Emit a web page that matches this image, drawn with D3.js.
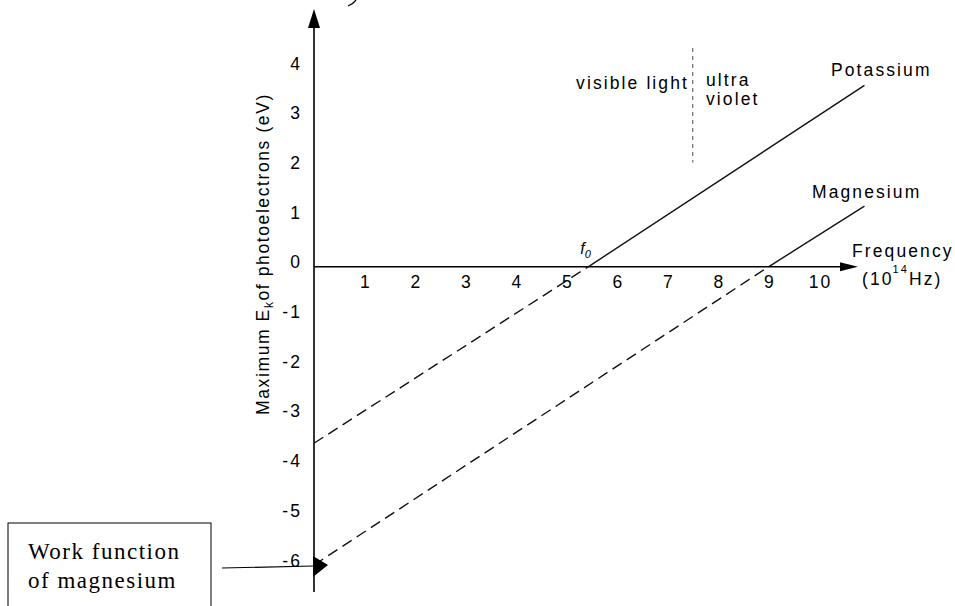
<!DOCTYPE html>
<html>
<head>
<meta charset="utf-8">
<script src="https://cdn.jsdelivr.net/npm/d3@7"></script>
<style>
body{margin:0;background:#fff}
svg text{font-family:"Liberation Sans",Arial,sans-serif;font-size:17.5px;letter-spacing:2.1px;fill:#000}
svg text.serif{font-family:"Liberation Serif","Times New Roman",serif;font-size:23px;letter-spacing:1.5px}
</style>
</head>
<body>
<svg id="chart" width="955" height="606"></svg>
<script>
// tick labels
var xTicks = [1,2,3,4,5,6,7,8,9,10]
var yTicks = [4,3,2,1,0,-1,-2,-3,-4,-5,-6]

// frequency (10^14 Hz) vs max Ek (eV)
var potassiumDashed = [{f:0, ek:-3.55}, {f:5.43, ek:0}]
var potassiumSolid  = [{f:5.43, ek:0}, {f:10.9, ek:3.65}]
var magnesiumDashed = [{f:0, ek:-6}, {f:9, ek:0}]
var magnesiumSolid  = [{f:9, ek:0}, {f:10.9, ek:1.22}]
var uvBoundary      = [{f:7.5, ek:4.4}, {f:7.5, ek:2.1}]

var drawChart = function(target)
{
    var xScale = d3.scaleLinear()
        .domain([0,10])
        .range([314,819])
    var yScale = d3.scaleLinear()
        .domain([-6,4])
        .range([565,68])

    createAxes(target,xScale,yScale)
    drawLines(target,xScale,yScale)
    createLabels(target,xScale,yScale)
}

var createAxes = function(target,xScale,yScale)
{
    var x0 = xScale(0), y0 = yScale(0)
    var axes = target.append("g").classed("axes", true)

    // y axis line with arrow on top
    axes.append("line")
        .attr("x1",x0).attr("x2",x0)
        .attr("y1",592).attr("y2",24)
        .attr("stroke","#000").attr("stroke-width",1.6)
    axes.append("path")
        .attr("d","M"+x0+",9 L"+(x0-6)+",28 L"+(x0+6)+",28 Z")
        .attr("fill","#000")

    // x axis line with arrow on the right
    axes.append("line")
        .attr("x1",x0).attr("x2",842)
        .attr("y1",y0).attr("y2",y0)
        .attr("stroke","#000").attr("stroke-width",1.6)
    axes.append("path")
        .attr("d","M858,"+y0+" L840,"+(y0-4.5)+" L840,"+(y0+4.5)+" Z")
        .attr("fill","#000")

    var xAxis = d3.axisBottom(xScale)
        .tickValues(xTicks)
        .tickSize(0)
        .tickPadding(9)
        .tickFormat(function(d){return String(d)})
    var yAxis = d3.axisLeft(yScale)
        .tickValues(yTicks)
        .tickSize(0)
        .tickPadding(12)
        .tickFormat(function(d){return String(d)})

    var gx = axes.append("g")
        .attr("transform","translate(0,"+y0+")")
        .call(xAxis)
    gx.select(".domain").remove()
    gx.selectAll("text").attr("dx","1")

    var gy = axes.append("g")
        .attr("transform","translate("+x0+",0)")
        .call(yAxis)
    gy.select(".domain").remove()
    gy.selectAll("text").attr("dy","0.06em")
}

var drawLines = function(target,xScale,yScale)
{
    var lineGenerator = d3.line()
        .x(function(p){return xScale(p.f)})
        .y(function(p){return yScale(p.ek)})

    var lines = target.append("g")
        .classed("lines", true)
        .attr("fill","none")

    lines.selectAll("path.solid")
        .data([potassiumSolid, magnesiumSolid])
        .enter()
        .append("path")
        .classed("solid", true)
        .attr("d",lineGenerator)
        .attr("stroke","#111")
        .attr("stroke-width",1.4)

    lines.selectAll("path.dashed")
        .data([potassiumDashed, magnesiumDashed])
        .enter()
        .append("path")
        .classed("dashed", true)
        .attr("d",lineGenerator)
        .attr("stroke","#111")
        .attr("stroke-width",1.4)
        .attr("stroke-dasharray","11,6")

    lines.append("path")
        .datum(uvBoundary)
        .attr("d",lineGenerator)
        .attr("stroke","#777")
        .attr("stroke-width",1.3)
        .attr("stroke-dasharray","4,4")
}

var createLabels = function(target,xScale,yScale)
{
    var labels = target.append("g").classed("labels", true)

    labels.append("text").text("Potassium").attr("x",831).attr("y",76)
    labels.append("text").text("Magnesium").attr("x",812).attr("y",198)
    labels.append("text").text("visible light")
        .attr("text-anchor","end").attr("x",689).attr("y",89)
    labels.append("text").text("ultra").attr("x",706).attr("y",86)
    labels.append("text").text("violet").attr("x",706).attr("y",105)

    labels.append("text").text("Frequency").attr("x",852).attr("y",257)
    var unit = labels.append("text").attr("x",862).attr("y",285)
    unit.append("tspan").text("(10")
    unit.append("tspan").text("14")
        .style("font-size","11px").attr("dy","-12").attr("dx","-1")
    unit.append("tspan").text("Hz)").attr("dy","12")

    // threshold frequency label
    var f0 = labels.append("text")
        .attr("x",xScale(5.43)-8).attr("y",254)
        .style("font-style","italic").style("font-size","16px").style("letter-spacing","0px")
    f0.append("tspan").text("f")
    f0.append("tspan").text("0").style("font-size","11px").attr("dy","4")

    // y axis title
    var yt = labels.append("text")
        .attr("text-anchor","middle")
        .attr("transform","translate(269,254) rotate(-90)")
        .style("letter-spacing","1.6px")
    yt.append("tspan").text("Maximum E")
    yt.append("tspan").text("k").style("font-size","12px").attr("dy","4")
    yt.append("tspan").text("of photoelectrons (eV)").attr("dy","-4")

    // tail of a bracket cut off at the top edge
    labels.append("path")
        .attr("d","M348,6 Q353,4 356,0")
        .attr("fill","none").attr("stroke","#000").attr("stroke-width",1.3)

    // work function callout
    labels.append("rect")
        .attr("x",8).attr("y",523).attr("width",203).attr("height",100)
        .attr("fill","none").attr("stroke","#000").attr("stroke-width",1)
    labels.append("text").classed("serif", true).text("Work function").attr("x",28).attr("y",559)
    labels.append("text").classed("serif", true).text("of magnesium").attr("x",28).attr("y",588)
    labels.append("line")
        .attr("x1",222).attr("y1",568).attr("x2",314).attr("y2",566)
        .attr("stroke","#000").attr("stroke-width",1.2)
    labels.append("path")
        .attr("d","M"+(xScale(0)-1)+",556 L328,"+yScale(-6)+" L"+(xScale(0)-1)+",577 Z")
        .attr("fill","#000")
}

drawChart(d3.select("#chart"))
</script>
</body>
</html>
